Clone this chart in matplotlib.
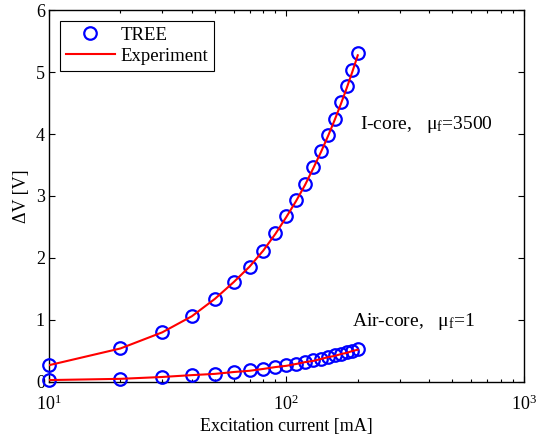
import matplotlib
matplotlib.use("Agg")
import matplotlib.pyplot as plt
from matplotlib.ticker import LogLocator, NullFormatter

plt.rcParams['font.family'] = ['Liberation Serif', 'DejaVu Serif']
plt.rcParams['mathtext.fontset'] = 'custom'
plt.rcParams['mathtext.rm'] = 'Liberation Serif'
plt.rcParams['mathtext.it'] = 'Liberation Serif:italic'

# excitation current [mA]
current = [10, 20, 30, 40, 50, 60, 70, 80, 90, 100,
           110, 120, 130, 140, 150, 160, 170, 180, 190, 200]

# I-core, mu_f = 3500
icore_tree = [0.27, 0.54, 0.80, 1.06, 1.34, 1.61, 1.85, 2.12, 2.40, 2.67,
              2.93, 3.19, 3.46, 3.72, 3.98, 4.25, 4.51, 4.77, 5.04, 5.31]
icore_exp = [0.27, 0.54, 0.80, 1.06, 1.34, 1.61, 1.86, 2.12, 2.39, 2.66,
             2.92, 3.18, 3.45, 3.71, 3.97, 4.23, 4.49, 4.75, 5.01, 5.27]

# Air-core, mu_f = 1
air_tree = [0.03, 0.05, 0.08, 0.11, 0.13, 0.16, 0.19, 0.21, 0.24, 0.27,
            0.29, 0.32, 0.35, 0.37, 0.40, 0.43, 0.45, 0.48, 0.50, 0.53]
air_exp = [0.03, 0.05, 0.08, 0.11, 0.13, 0.16, 0.18, 0.21, 0.24, 0.26,
           0.29, 0.32, 0.34, 0.37, 0.40, 0.42, 0.45, 0.47, 0.50, 0.52]

fig = plt.figure(figsize=(5.4, 4.37), dpi=100)
ax = fig.add_axes([0.0907, 0.126, 0.879, 0.851])

ax.plot(current, icore_tree, 'o', mfc='none', mec='#0000ff', ms=9, mew=1.6,
        label='TREE', zorder=3, clip_on=False)
ax.plot(current, icore_exp, '-', color='#ff0000', lw=1.5, label='Experiment', zorder=4)
ax.plot(current, air_tree, 'o', mfc='none', mec='#0000ff', ms=9, mew=1.6,
        zorder=3, clip_on=False)
ax.plot(current, air_exp, '-', color='#ff0000', lw=1.5, zorder=4)

ax.set_xscale('log')
ax.set_xlim(10, 1000)
ax.set_ylim(0, 6)
ax.set_yticks([0, 1, 2, 3, 4, 5, 6])
ax.xaxis.set_minor_locator(LogLocator(base=10, subs=range(2, 10)))
ax.xaxis.set_minor_formatter(NullFormatter())
ax.tick_params(which='both', direction='in', top=True, right=True, labelsize=13)
ax.tick_params(which='major', length=4, width=0.8)
ax.tick_params(which='minor', length=2.5, width=0.8)
ax.tick_params(axis='x', pad=9)
ax.tick_params(axis='y', pad=3)
for s in ax.spines.values():
    s.set_linewidth(1.0)

ax.set_xlabel('Excitation current [mA]', fontsize=13, labelpad=3)
ax.set_ylabel('ΔV [V]', fontsize=13, labelpad=4)

ax.text(205, 4.16, r'I-core,   $\mathrm{μ}_\mathrm{f}$=3500', fontsize=14, va='center')
ax.text(189, 0.97, r'Air-core,   $\mathrm{μ}_\mathrm{f}$=1', fontsize=14, va='center')

leg = ax.legend(loc='upper left', fontsize=13.5, fancybox=False, framealpha=1,
                edgecolor='black', borderaxespad=0.6, handlelength=2.6,
                borderpad=0.3, labelspacing=0.2, handletextpad=0.3)
leg.get_frame().set_linewidth(0.8)

fig.savefig('out.png', dpi=100)
